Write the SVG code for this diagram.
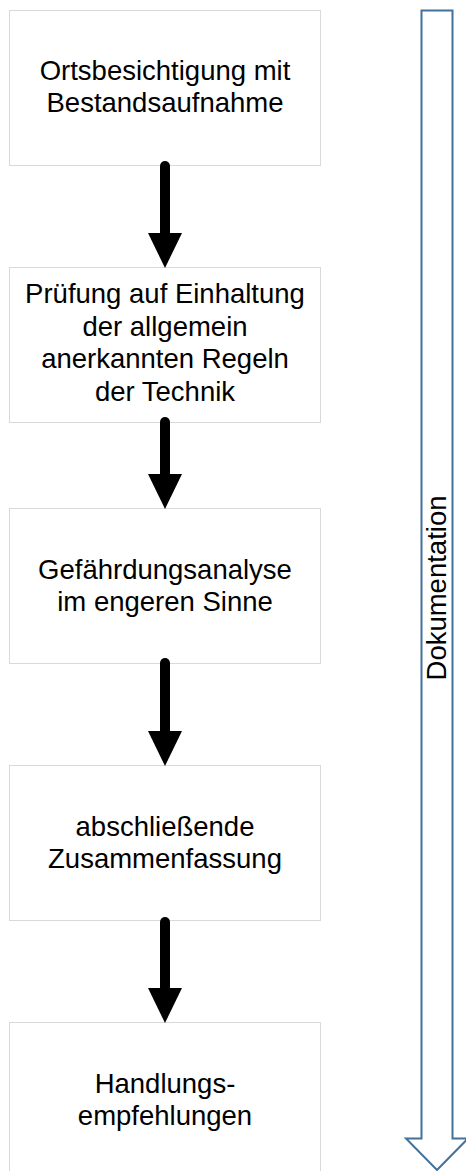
<svg xmlns="http://www.w3.org/2000/svg" width="466" height="1171" viewBox="0 0 466 1171">
<style>
.box{fill:#ffffff;stroke:#d9d9d9;stroke-width:1}
.lbl{font-family:"Liberation Sans",Arial,sans-serif;font-size:27.5px;fill:#000000;text-anchor:middle}
.flow{stroke:#000000;stroke-width:10;stroke-linecap:round;fill:none;marker-end:url(#head)}
.doc{fill:#ffffff;stroke:#41719C;stroke-width:2}
.doclbl{font-family:"Liberation Sans",Arial,sans-serif;font-size:27.5px;fill:#000000;text-anchor:middle}
</style>
<defs>
<marker id="head" markerUnits="userSpaceOnUse" markerWidth="36" markerHeight="36" refX="0" refY="17" orient="auto">
<path d="M0,0 L35,17 L0,34 Z" fill="#000000"/>
</marker>
</defs>
<rect width="466" height="1171" fill="#ffffff"/>
<g id="doc-arrow">
<path class="doc" d="M421.5,10.5 H452.5 V1138.5 H468 L437,1170 L406,1138.5 H421.5 Z"/>
<text class="doclbl" transform="translate(446,588) rotate(-90)">Dokumentation</text>
</g>
<g id="n1">
<rect class="box" x="9.5" y="10.5" width="311" height="155"/>
<text class="lbl" x="165" y="80">Ortsbesichtigung mit</text>
<text class="lbl" x="165" y="112">Bestandsaufnahme</text>
</g>
<g id="n2">
<rect class="box" x="9.5" y="267.5" width="311" height="155"/>
<text class="lbl" x="165" y="303">Prüfung auf Einhaltung</text>
<text class="lbl" x="165" y="335.5">der allgemein</text>
<text class="lbl" x="165" y="368">anerkannten Regeln</text>
<text class="lbl" x="165" y="400.5">der Technik</text>
</g>
<g id="n3">
<rect class="box" x="9.5" y="508.5" width="311" height="155"/>
<text class="lbl" x="165" y="579">Gefährdungsanalyse</text>
<text class="lbl" x="165" y="611">im engeren Sinne</text>
</g>
<g id="n4">
<rect class="box" x="9.5" y="765.5" width="311" height="155"/>
<text class="lbl" x="165" y="836">abschließende</text>
<text class="lbl" x="165" y="868">Zusammenfassung</text>
</g>
<g id="n5">
<rect class="box" x="9.5" y="1022.5" width="311" height="155"/>
<text class="lbl" x="165" y="1093">Handlungs-</text>
<text class="lbl" x="165" y="1125">empfehlungen</text>
</g>
<g id="connectors">
<line class="flow" x1="165" y1="166" x2="165" y2="233"/>
<line class="flow" x1="165" y1="422" x2="165" y2="474"/>
<line class="flow" x1="165" y1="663" x2="165" y2="731"/>
<line class="flow" x1="165" y1="922" x2="165" y2="988"/>
</g>
</svg>
